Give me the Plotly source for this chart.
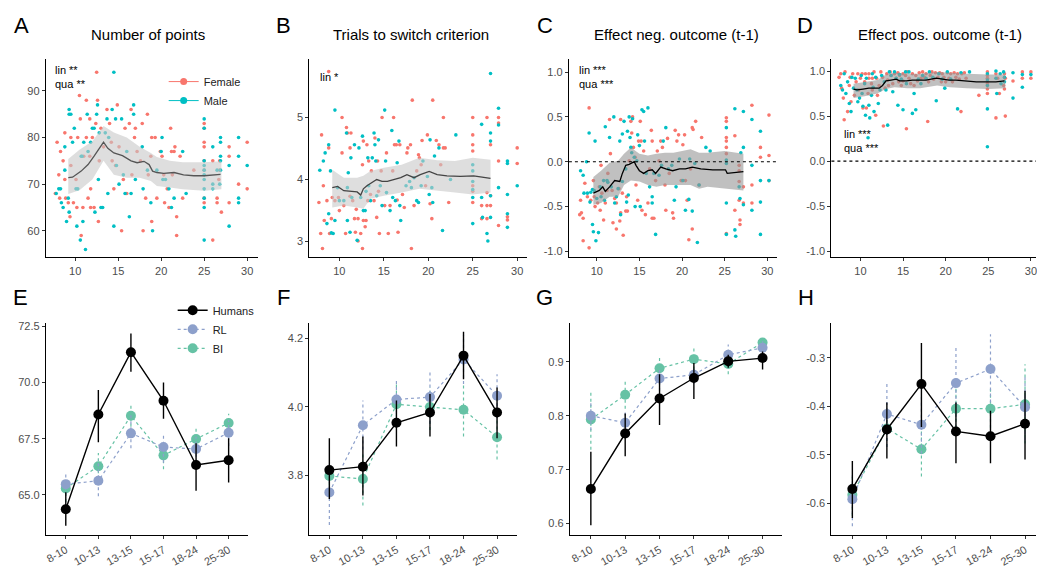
import plotly.graph_objects as go

FONT = "Arial, Liberation Sans, sans-serif"
FEMALE = "#F8766D"
MALE = "#00BFC4"
HUM_C = "black"
RL_C = "#8DA0CB"
BI_C = "#66C2A5"

# ---------------- Top row data: (age, value) ----------------
a_female = [(7.7,68),(7.9,79),(8.1,72),(8.2,67),(8.3,77),(8.6,75),(8.8,81),(8.8,71),(8.9,67),(9.2,66),(9.4,63),(9.5,74),(9.5,80),(9.8,66),(10.1,71),(10.2,65),(10.3,80),(10.5,89),(10.6,84),(10.7,59),(10.9,65),(11,76),(11.3,88),(11.3,80),(11.5,67),(11.7,84),(11.7,76),(11.8,69),(11.8,65),(12,80),(12.2,65),(12.4,83),(12.5,94),(12.6,88),(12.7,62),(12.8,75),(13,82),(13.3,78),(13.7,86),(14,83),(14.2,79),(14.3,75),(14.5,69),(14.7,74),(14.9,87),(15.1,78),(15.4,60),(15.6,71),(15.8,82),(16,68),(16.3,83),(16.5,86),(16.6,72),(16.9,80),(17,82),(17.2,77),(17.6,75),(17.8,83),(17.9,60),(18.2,67),(18.4,85),(18.5,72),(18.8,76),(18.9,80),(18.9,62),(19.3,80),(19.5,67),(19.9,77),(20.1,76),(20.3,72),(20.4,66),(20.7,69),(20.9,65),(21.1,82),(21.2,77),(21.3,72),(21.5,77),(21.6,78),(21.8,63),(21.8,59),(22.2,76),(22.5,67),(23.8,73),(25,83),(25,82),(25,79),(25,78),(25,75),(25,73),(25,67),(25,66),(26,75),(26,58),(26.5,67),(26.5,66),(26.7,71),(26.8,73),(26.8,75),(27,64),(27.9,78),(27.9,76),(27.9,66),(29,70),(30,79),(30,69)]
a_male = [(7.8,68),(8.1,69),(8.3,69),(8.4,66),(8.6,65),(8.8,78),(8.8,73),(9,62),(9.2,67),(9.3,64),(9.3,86),(9.3,85),(9.5,85),(9.7,79),(9.9,82),(10.1,69),(10.2,61),(10.3,69),(10.6,58),(10.7,76),(10.8,76),(10.9,62),(11,79),(11.2,56),(11.4,85),(11.5,77),(11.8,79),(12,82),(12.2,82),(12.3,64),(12.5,85),(12.6,87),(12.7,71),(12.8,81),(13,65),(13.2,65),(13.5,81),(13.7,84),(13.8,68),(13.9,80),(14.3,86),(14.5,94),(14.5,61),(14.7,84),(14.8,74),(15.1,70),(15.4,84),(15.6,72),(15.8,68),(16,77),(16.3,63),(16.5,68),(16.8,87),(16.8,85),(17,71),(17.8,78),(17.9,69),(18.4,73),(18.8,66),(19,60),(19.5,73),(20,77),(20.1,80),(20.2,71),(20.5,71),(20.9,69),(21.2,65),(21.5,67),(22.5,77),(22.9,68),(25,75),(25,74),(25,73),(25,72),(25,71),(25,69),(25,67),(25,65),(25,58),(25,84),(25,82),(26,70),(26,69),(26,78),(26.5,73),(26.8,70),(26.9,79),(26.9,80),(26.9,76),(26.9,75),(26.9,73),(27.9,74),(27.9,61),(29,80),(29,76),(29,67),(29,66),(30,74)]
a_line_age = [9.2,9.7,10.7,11.5,12.2,12.8,13.3,13.8,14.5,15.5,16.5,17.2,18,18.6,19,19.5,20.3,21.5,22.6,23.8,25,26.9]
a_line_val = [71.4,71.5,72.8,74.2,76,77.7,79,77.7,76.7,76.1,75,74.6,74.9,74.2,72.8,72.5,72.3,72.5,72,71.8,71.8,72.1]
a_band_age = [9.2,10.5,12,13.3,14.5,16,17.5,18.8,19.5,21,22.5,25,27]
a_band_hi = [75.4,77.4,79.2,82.5,81.1,80,78,76.7,75.8,75,74.7,74.7,74.9]
a_band_lo = [67.9,68.7,71,75,72,71.4,71.4,70.7,69.6,69.3,68.9,68.6,68.9]

b_female = [(7.7,3.63),(7.9,3.13),(8,4.72),(8.1,2.89),(8.2,3.9),(8.3,3.34),(8.6,3.66),(8.8,5.74),(8.8,4.51),(8.9,3.13),(9.1,3.37),(9.2,3.71),(9.5,3.66),(9.9,3.71),(10,3.5),(10.3,5),(10.3,4.43),(10.5,3.58),(10.7,3.13),(10.8,4.84),(10.9,4.75),(11.2,4.51),(11.2,3.73),(11.3,4.75),(11.5,3.66),(11.7,3.37),(11.8,3.15),(11.9,3.52),(12.1,3.37),(12.1,3.01),(12.4,3.13),(12.6,4.24),(12.6,2.89),(12.7,4.62),(12.7,3.34),(12.9,3.24),(13,3.34),(13.1,4.56),(13.2,3.66),(13.3,4.3),(13.5,3.76),(13.6,4.14),(13.9,3.66),(14,4.67),(14.2,3.39),(14.3,4.3),(14.4,3.81),(14.5,3.13),(14.7,4.14),(14.8,5),(15.1,3.58),(15.3,4.43),(15.5,3.13),(15.7,3.58),(16,4.14),(16.1,5),(16.2,4.56),(16.4,4.56),(16.5,3.67),(16.6,3.15),(16.8,4.56),(17.1,3.76),(17.3,3.55),(17.6,4.43),(17.7,4.51),(18,4.56),(18.1,2.89),(18.2,5.28),(18.4,3.58),(18.7,4.14),(18.9,4.4),(19,4.35),(19.2,4.24),(19.3,4.63),(19.7,3.9),(19.9,4.72),(20.2,3.61),(20.4,3.37),(20.5,5.28),(20.9,4.63),(21.2,4.56),(21.4,4.24),(21.7,4.51),(21.7,5),(21.9,4.51),(22.3,3.63),(25,5),(25,4.72),(25,4.56),(25,4.46),(25,3.9),(25,3.81),(25,3.63),(26,3.58),(26,3.37),(26.6,5),(26.6,3.79),(26.6,3.58),(26.6,3.37),(27,4.56),(27,3.58),(27,3.74),(27.9,5),(27.9,4.91),(27.9,4.3),(27.9,3.26),(28.9,3.4),(28.9,3.35),(30,4.51),(30,4.26)]
b_male = [(7.8,4.15),(8.2,4.3),(8.4,4.43),(8.6,3.29),(8.8,4.56),(8.8,3.45),(9,4.14),(9.1,3.14),(9.3,3.13),(9.5,5.12),(9.5,3.34),(9.8,3.87),(10,3.66),(10.5,3.66),(10.8,4.75),(10.9,3.87),(10.9,3.34),(11,4.11),(11.2,3.15),(11.3,4.35),(11.4,3.71),(11.7,4.56),(12,3.02),(12.2,4.51),(12.4,3.71),(12.6,4.7),(12.7,3.5),(12.9,3.5),(13,3.81),(13.2,4.35),(13.3,3.9),(13.5,3.66),(13.7,4.35),(13.9,4.75),(14,4.56),(14.1,4.3),(14.2,3.74),(14.4,4.64),(14.6,3.9),(14.8,3.58),(15.1,5.12),(15.2,4.3),(15.3,3.79),(15.7,3.5),(15.9,4.79),(16,3.71),(16.3,3.66),(16.5,4.27),(16.7,4.62),(16.8,3.58),(16.9,3.34),(17.5,3.9),(17.9,3.97),(18.1,3.87),(18.4,4.03),(18.7,3.66),(18.9,3.63),(19.2,3.9),(19.4,4.3),(19.9,4.05),(20.1,3.76),(20.2,4.64),(20.4,3.87),(20.5,3.63),(20.7,4.38),(21.2,4.51),(21.6,3.18),(22.5,4),(23.1,4.72),(25,4.24),(25,4.14),(25,3.97),(25,3.84),(25,3.71),(25,3.29),(26,4.89),(26,3.71),(26.1,3.39),(26.6,3.13),(26.7,3.01),(27,5.71),(27,4.75),(27,4.62),(27,3.74),(27,3.39),(27.9,5.15),(27.9,4.88),(27.9,3.87),(28.9,4.3),(28.9,4.26),(28.9,3.76),(28.9,3.45),(28.9,3.23),(30,3.9)]
b_line_age = [9.2,9.8,10.5,11.2,12,12.4,12.7,13.1,13.9,14.2,14.8,15.4,16.1,16.9,17.6,18.4,19.1,20.1,21,22.1,23.6,25.1,27]
b_line_val = [3.87,3.89,3.82,3.81,3.8,3.75,3.85,3.9,3.97,4,3.97,3.97,4,4.03,4.08,4.03,4.08,4.13,4.08,4.06,4.05,4.06,4.02]
b_band_age = [9.2,10.5,12,12.7,13.5,15,17,19,21,23,25,27]
b_band_hi = [4.16,4.03,4.03,4.06,4.14,4.19,4.24,4.35,4.31,4.3,4.35,4.32]
b_band_lo = [3.55,3.58,3.55,3.53,3.69,3.74,3.79,3.85,3.82,3.79,3.76,3.79]

c_female = [(8,-0.59),(8.1,-0.43),(8.2,-0.57),(8.4,-0.63),(8.4,-0.88),(8.6,-0.24),(8.9,-0.39),(9.1,0.6),(9.1,-0.96),(9.3,-0.43),(9.6,-0.21),(9.7,-0.39),(9.8,-0.5),(10.1,-0.46),(10.3,-0.28),(10.4,-0.54),(10.5,-0.04),(10.6,-0.35),(10.8,-0.65),(11,-0.46),(11.2,-0.32),(11.3,-0.13),(11.5,0.47),(11.6,0.09),(11.8,-0.32),(11.9,-0.68),(12.1,-0.41),(12.3,-0.75),(12.3,-0.46),(12.6,-0.3),(12.7,-0.66),(12.8,0.47),(12.8,-0.57),(13,-0.35),(13.1,-0.82),(13.4,-0.55),(13.5,-0.39),(13.6,-0.55),(13.8,0.01),(14,0.45),(14.1,0.32),(14.2,0.5),(14.3,0.16),(14.5,0.05),(14.6,-0.26),(14.8,-0.43),(14.9,0.23),(15.1,0.45),(15.2,0.23),(15.3,-0.54),(15.5,0.12),(15.7,-0.59),(16,-0.46),(16.2,-0.08),(16.4,0.35),(16.5,0.23),(16.5,-0.63),(16.7,-0.63),(16.9,-0.21),(17.1,0.12),(17.3,0.01),(17.5,0.23),(17.7,0.16),(18,-0.26),(18.1,-0.54),(18.3,0.26),(18.5,-0.13),(18.9,-0.57),(19,-0.63),(19.2,0.35),(19.4,0.23),(19.6,0.3),(19.9,-0.21),(20.1,0.19),(20.3,0.3),(20.4,-0.21),(20.6,-0.43),(20.8,-0.87),(21,-0.08),(21.2,0.38),(21.3,0.36),(21.2,-0.75),(21.6,0.45),(22,-0.26),(22.3,0.27),(25.2,0.49),(25.2,0.45),(25.2,0.27),(25.2,0.23),(25.2,0.16),(25.2,0.09),(25.2,-0.8),(26.2,0.29),(26.2,-0.54),(26.7,-0.04),(26.7,-0.1),(26.7,-0.22),(26.7,-0.43),(26.8,-0.65),(26.8,-0.7),(27.2,-0.46),(27.2,-0.28),(28.2,0.63),(28.2,-0.26),(28.2,-0.46),(29.2,0.16),(29.2,0.05),(30.2,0.52),(30.2,-0.21),(30.2,0.07)]
c_male = [(8.1,-0.1),(8.4,-0.15),(8.5,-0.35),(8.8,0),(8.9,-0.35),(9.1,0.32),(9.2,-0.45),(9.3,-0.34),(9.5,-0.31),(9.5,-0.7),(9.6,-0.78),(9.7,-0.32),(9.8,0.23),(9.9,-0.88),(10,-0.41),(10.2,-0.79),(10.4,-0.28),(10.5,-0.39),(10.8,-0.21),(10.9,-0.43),(11,0.39),(11.2,-0.21),(11.3,-0.23),(11.5,0.27),(11.7,-0.28),(12,0.5),(12.1,-0.46),(12.3,-0.39),(12.5,-0.3),(12.7,0.23),(12.8,-0.59),(13,0.31),(13,-0.22),(13.2,0.45),(13.4,-0.08),(13.5,-0.45),(13.6,0.34),(13.7,-0.37),(13.8,0.5),(13.9,0.27),(14,0.16),(14.1,0.1),(14.2,0.48),(14.4,0.05),(14.5,-0.5),(14.7,0.01),(14.8,0.3),(15,0.18),(15.1,-0.5),(15.3,0.58),(15.5,0.56),(15.6,0.23),(15.8,-0.13),(16,0.6),(16.2,-0.28),(16.5,-0.46),(16.5,-0.39),(16.7,-0.13),(16.9,-0.81),(17.3,-0.15),(17.6,-0.04),(17.8,0.23),(18.1,0.38),(18.4,-0.08),(18.8,-0.04),(19.1,-0.43),(19.3,-0.28),(19.7,0.03),(20.1,-0.21),(20.4,-0.54),(20.8,-0.42),(20.9,0.03),(21.2,-0.55),(21.5,-0.02),(21.8,-0.9),(22,-0.26),(22.8,0.16),(23.3,0.12),(25.2,0.38),(25.2,0.02),(25.2,-0.02),(25.2,-0.46),(25.2,-0.81),(26.2,0.59),(26.2,-0.76),(26.3,-0.83),(26.7,-0.28),(26.8,-0.41),(26.9,0.1),(27.2,0.16),(27.2,0.56),(27.2,-0.48),(28.2,0.47),(28.2,-0.04),(28.2,-0.54),(29.2,0.34),(29.2,-0.21),(29.2,-0.45),(29.2,-0.81),(30.2,-0.21)]
c_line_age = [9.6,10.3,10.7,11,11.5,12.1,12.7,13,13.4,13.8,14.4,14.6,15,15.5,16,16.5,16.9,17.5,18.1,18.9,19.7,20.4,21.2,22.2,23.6,25.1,25.3,26.3,27.2]
c_line_val = [-0.35,-0.32,-0.28,-0.33,-0.28,-0.21,-0.22,-0.13,-0.04,-0.03,0,-0.04,-0.1,-0.13,-0.1,-0.09,-0.13,-0.06,-0.08,-0.1,-0.08,-0.08,-0.06,-0.08,-0.09,-0.09,-0.13,-0.12,-0.11]
c_band_age = [9.6,10.5,11.5,12.5,13.2,14,15,16,17,18,19,20,21,22,23,25,27.2]
c_band_hi = [-0.17,-0.1,-0.01,0.01,0.09,0.16,0.09,0.07,0.09,0.1,0.1,0.12,0.14,0.1,0.1,0.12,0.09]
c_band_lo = [-0.48,-0.46,-0.39,-0.39,-0.26,-0.21,-0.22,-0.26,-0.28,-0.26,-0.26,-0.26,-0.26,-0.3,-0.28,-0.3,-0.32]

d_female = [(7.5,0.93),(7.7,0.97),(7.8,0.81),(8,0.7),(8.1,0.46),(8.2,0.99),(8.5,0.55),(8.7,0.84),(8.8,0.93),(8.9,0.66),(9.1,0.97),(9.3,0.73),(9.5,0.88),(9.7,0.97),(9.8,0.79),(10,0.92),(10.2,0.97),(10.3,0.59),(10.5,0.88),(10.6,0.97),(10.7,0.59),(10.9,0.75),(11,0.92),(11,0.97),(11.3,0.86),(11.4,0.79),(11.4,0.92),(11.6,0.99),(11.8,0.51),(11.9,0.92),(12,0.73),(12.2,0.84),(12.4,0.99),(12.6,0.93),(12.7,0.39),(12.9,0.81),(13.1,0.97),(13.2,0.9),(13.3,0.84),(13.5,0.99),(13.6,0.95),(13.8,0.86),(14,0.97),(14.2,0.92),(14.4,0.98),(14.5,0.88),(14.6,0.95),(14.8,0.84),(15,0.97),(15,0.89),(15.3,0.95),(15.4,0.36),(15.5,0.99),(15.7,0.92),(15.9,0.86),(16.1,0.97),(16.3,0.84),(16.5,0.95),(16.7,0.89),(16.9,0.98),(17.1,0.92),(17.3,0.99),(17.5,0.93),(17.7,0.97),(17.9,0.44),(18,0.88),(18.2,0.95),(18.4,0.99),(18.6,0.91),(18.8,0.98),(19.1,0.93),(19.3,0.98),(19.5,0.88),(19.6,0.97),(19.8,0.93),(20,0.88),(20.2,0.98),(20.4,0.92),(20.6,0.97),(20.8,0.88),(21,0.98),(21.2,0.93),(21.4,0.97),(21.6,0.91),(21.8,0.55),(21.9,0.97),(22.2,0.98),(22.4,0.92),(23.9,0.73),(24.9,0.99),(24.9,0.95),(24.9,0.92),(24.9,0.86),(24.9,0.8),(24.9,0.75),(25.9,0.48),(25.9,0.97),(26.1,0.92),(26.3,0.75),(26.8,0.84),(26.9,0.97),(26.9,0.8),(27,0.5),(27,0.92),(27.9,0.89),(29,0.99),(29,0.92),(30,0.99),(30,0.92)]
d_male = [(7.7,0.84),(7.9,0.79),(8.1,0.97),(8.3,0.75),(8.5,0.88),(8.7,0.64),(8.9,0.55),(9,0.93),(9.2,0.81),(9.4,0.92),(9.6,0.79),(9.7,0.66),(9.9,0.7),(10.1,0.95),(10.2,0.75),(10.3,0.61),(10.5,0.86),(10.6,0.51),(10.7,0.92),(10.9,0.26),(11,0.62),(11.1,0.48),(11.3,0.73),(11.4,0.97),(11.5,0.82),(11.6,0.55),(11.8,0.93),(12.1,0.64),(12.3,0.79),(12.5,0.95),(12.8,0.88),(13,0.79),(13.2,0.4),(13.4,0.99),(13.6,0.95),(13.8,0.77),(14,0.99),(14.2,0.92),(14.4,0.62),(14.6,0.96),(14.8,0.91),(15,0.57),(15.3,0.99),(15.4,0.86),(15.7,0.99),(16.1,0.53),(16.3,0.75),(16.5,0.57),(16.8,0.91),(17.1,0.86),(17.3,0.95),(17.7,0.92),(18.1,0.99),(18.5,0.93),(18.9,0.67),(19.2,0.97),(19.6,0.91),(19.9,0.81),(20.2,0.99),(20.6,0.91),(21.4,0.58),(21.8,0.98),(22.8,0.99),(24.9,0.58),(24.9,0.16),(24.9,0.97),(24.9,0.9),(24.9,0.84),(25.9,0.92),(25.9,1.0),(26,0.75),(26.4,0.97),(26.5,0.86),(26.8,0.99),(26.9,0.93),(26.9,0.88),(27.9,0.7),(27.9,0.98),(29,0.82),(29,0.96),(30,0.96)]
d_line_age = [9.2,9.6,10.3,11,11.8,12.2,12.6,13,13.6,14.2,14.6,15.4,16.1,16.9,17.7,18.9,19.6,20.4,21.2,22.4,23.6,24.9,25.9,26.9]
d_line_val = [0.8,0.79,0.8,0.81,0.81,0.81,0.84,0.89,0.9,0.91,0.89,0.89,0.9,0.9,0.9,0.92,0.91,0.9,0.9,0.89,0.88,0.88,0.88,0.89]
d_band_age = [9.2,10.5,12,13,14,15.5,17,19,20.5,22.5,25,27]
d_band_hi = [0.86,0.88,0.9,0.96,0.98,0.97,0.97,0.99,0.98,0.97,0.96,0.96]
d_band_lo = [0.7,0.72,0.75,0.8,0.82,0.81,0.81,0.84,0.82,0.81,0.8,0.81]
zero_ref = 0.0

# ---------------- Bottom row data: (mean, lower, upper) ----------------
age_groups = ["8-10", "10-13", "13-15", "15-17", "18-24", "25-30"]
e_humans = [(64.36,63.63,65.12),(68.58,67.34,69.67),(71.35,70.48,72.18),(69.19,68.39,70.0),(66.33,65.19,67.3),(66.54,65.55,67.52)]
e_rl = [(65.48,64.97,65.99),(65.63,64.94,66.57),(67.74,67.08,68.54),(67.13,66.43,67.74),(67.04,66.43,67.59),(67.77,67.18,68.32)]
e_bi = [(65.29,64.68,65.63),(66.28,65.7,66.86),(68.52,68.03,69.05),(66.76,66.14,67.3),(67.49,67.01,67.96),(68.2,67.74,68.61)]
f_humans = [(3.815,3.731,3.908),(3.825,3.741,3.913),(3.953,3.884,4.018),(3.983,3.913,4.037),(4.149,4.08,4.219),(3.983,3.908,4.056)]
f_rl = [(3.75,3.655,3.832),(3.946,3.875,4.018),(4.021,3.961,4.083),(4.028,3.951,4.104),(4.138,4.066,4.21),(4.032,3.966,4.095)]
f_bi = [(3.798,3.77,3.825),(3.789,3.712,3.865),(4.007,3.951,4.066),(3.999,3.932,4.056),(3.991,3.913,4.066),(3.911,3.846,3.98)]
g_humans = [(0.664,0.597,0.733),(0.767,0.725,0.804),(0.832,0.783,0.877),(0.870,0.831,0.898),(0.901,0.889,0.913),(0.907,0.886,0.919)]
g_rl = [(0.8,0.773,0.828),(0.787,0.767,0.81),(0.869,0.846,0.889),(0.876,0.859,0.892),(0.913,0.895,0.932),(0.926,0.913,0.938)]
g_bi = [(0.793,0.737,0.846),(0.839,0.813,0.868),(0.888,0.868,0.907),(0.905,0.886,0.926),(0.896,0.877,0.91),(0.936,0.926,0.947)]
h_humans = [(-0.571,-0.631,-0.513),(-0.448,-0.508,-0.392),(-0.354,-0.443,-0.269),(-0.452,-0.518,-0.392),(-0.462,-0.518,-0.409),(-0.436,-0.51,-0.368)]
h_rl = [(-0.592,-0.648,-0.539),(-0.416,-0.484,-0.351),(-0.438,-0.498,-0.381),(-0.352,-0.422,-0.275),(-0.323,-0.392,-0.251),(-0.402,-0.47,-0.337)]
h_bi = [(-0.583,-0.627,-0.545),(-0.446,-0.484,-0.415),(-0.489,-0.545,-0.45),(-0.405,-0.457,-0.361),(-0.405,-0.457,-0.361),(-0.396,-0.477,-0.313)]

fig = go.Figure()


def add_top(xa, ya, female, male, band_age, band_lo, band_hi, line_age, line_val,
            band_col, line_col):
    for pts, col in ((female, FEMALE), (male, MALE)):
        fig.add_trace(go.Scatter(
            x=[p[0] for p in pts], y=[p[1] for p in pts], mode="markers",
            marker=dict(size=3.6, color=col, line=dict(width=0)),
            xaxis=xa, yaxis=ya, showlegend=False, hoverinfo="skip"))
    fig.add_trace(go.Scatter(
        x=band_age + band_age[::-1], y=band_hi + band_lo[::-1],
        fill="toself", fillcolor=band_col, mode="lines", line=dict(width=0),
        xaxis=xa, yaxis=ya, showlegend=False, hoverinfo="skip"))
    fig.add_trace(go.Scatter(
        x=line_age, y=line_val, mode="lines", line=dict(color=line_col, width=1.3),
        xaxis=xa, yaxis=ya, showlegend=False, hoverinfo="skip"))


add_top("x", "y", a_female, a_male, a_band_age, a_band_lo, a_band_hi,
        a_line_age, a_line_val, "rgba(200,200,200,0.6)", "#555555")
add_top("x2", "y2", b_female, b_male, b_band_age, b_band_lo, b_band_hi,
        b_line_age, b_line_val, "rgba(200,200,200,0.6)", "#444444")
add_top("x3", "y3", c_female, c_male, c_band_age, c_band_lo, c_band_hi,
        c_line_age, c_line_val, "rgba(150,150,150,0.6)", "black")
add_top("x4", "y4", d_female, d_male, d_band_age, d_band_lo, d_band_hi,
        d_line_age, d_line_val, "rgba(150,150,150,0.6)", "black")

# legend keys for sex
for name, col in (("Female", FEMALE), ("Male", MALE)):
    fig.add_trace(go.Scatter(
        x=[None], y=[None], mode="lines+markers", name=name,
        marker=dict(size=7, color=col), line=dict(color=col, width=1),
        xaxis="x", yaxis="y", legend="legend"))


def add_bottom(xa, ya, series, first):
    for name, data, col, dash, lw in series:
        xs, ys = [], []
        for g, (m, lo, hi) in zip(age_groups, data):
            xs += [g, g, None]
            ys += [lo, hi, None]
        fig.add_trace(go.Scatter(
            x=xs, y=ys, mode="lines", line=dict(color=col, width=lw, dash=dash),
            xaxis=xa, yaxis=ya, showlegend=False, hoverinfo="skip"))
        fig.add_trace(go.Scatter(
            x=age_groups, y=[d[0] for d in data], mode="lines+markers", name=name,
            line=dict(color=col, width=lw, dash=dash),
            marker=dict(size=10, color=col),
            xaxis=xa, yaxis=ya, showlegend=first, legend="legend2"))


for i, (hum, rl, bi) in enumerate([(e_humans, e_rl, e_bi), (f_humans, f_rl, f_bi),
                                   (g_humans, g_rl, g_bi), (h_humans, h_rl, h_bi)]):
    xa = "x%d" % (i + 5)
    ya = "y%d" % (i + 5)
    series = [("BI", bi, BI_C, "3px,3px", 1.2), ("RL", rl, RL_C, "3px,3px", 1.2),
              ("Humans", hum, HUM_C, "solid", 1.4)]
    add_bottom(xa, ya, series, i == 0)

for tr in fig.data:
    if tr.name == "Humans":
        tr.legendrank = 1
    elif tr.name == "RL":
        tr.legendrank = 2
    elif tr.name == "BI":
        tr.legendrank = 3

W, H = 1037, 568


def px_x(a, b):
    return [a / W, min(b / W, 1.0)]


def px_y(top, bottom):
    return [1 - bottom / H, 1 - top / H]


TICKFONT = dict(family=FONT, size=11, color="#4D4D4D")


def axis(domain, rng, anchor, tickvals=None, ticktext=None, angle=None, cat=False):
    d = dict(domain=domain, range=rng, anchor=anchor, showline=True,
             linecolor="black", linewidth=1.2, ticks="outside", ticklen=3,
             tickcolor="#333333", tickwidth=1, tickfont=TICKFONT,
             showgrid=False, zeroline=False, fixedrange=True,
             ticklabeloverflow="allow")
    if tickvals is not None:
        d["tickvals"] = tickvals
    if ticktext is not None:
        d["ticktext"] = ticktext
    if angle is not None:
        d["tickangle"] = angle
    if cat:
        d["type"] = "category"
    return d


top_y = px_y(57, 258)
bot_y = px_y(325, 540)
ages_ticks = [10, 15, 20, 25, 30]
cd_vals = [-1.0, -0.5, 0.0, 0.5, 1.0]
cd_text = ["-1.0", "-0.5", "0.0", "0.5", "1.0"]

layout = dict(
    width=W, height=H, margin=dict(l=0, r=0, t=0, b=0),
    paper_bgcolor="white", plot_bgcolor="white",
    font=dict(family=FONT, size=11, color="black"),
    xaxis=axis(px_x(45, 257), [6.6, 31.2], "y", ages_ticks),
    yaxis=axis(top_y, [54.3, 96.8], "x", [60, 70, 80, 90]),
    xaxis2=axis(px_x(309, 527), [6.63, 31.1], "y2", ages_ticks),
    yaxis2=axis(top_y, [2.746, 5.94], "x2", [3, 4, 5]),
    xaxis3=axis(px_x(569, 778), [6.73, 31.2], "y3", ages_ticks),
    yaxis3=axis(top_y, [-1.066, 1.143], "x3", cd_vals, cd_text),
    xaxis4=axis(px_x(832, 1037), [6.6, 30.6], "y4", ages_ticks),
    yaxis4=axis(top_y, [-1.066, 1.131], "x4", cd_vals, cd_text),
    xaxis5=axis(px_x(45, 247), [-0.61, 5.58], "y5", angle=-30, cat=True),
    yaxis5=axis(bot_y, [63.2, 72.63], "x5", [65, 67.5, 70, 72.5], ["65.0", "67.5", "70.0", "72.5"]),
    xaxis6=axis(px_x(309, 517), [-0.595, 5.595], "y6", angle=-30, cat=True),
    yaxis6=axis(bot_y, [3.6245, 4.243], "x6", [3.8, 4.0, 4.2], ["3.8", "4.0", "4.2"]),
    xaxis7=axis(px_x(570, 783), [-0.61, 5.58], "y7", angle=-30, cat=True),
    yaxis7=axis(bot_y, [0.578, 0.9713], "x7", [0.6, 0.7, 0.8, 0.9], ["0.6", "0.7", "0.8", "0.9"]),
    xaxis8=axis(px_x(832, 1037), [-0.607, 5.318], "y8", angle=-30, cat=True),
    yaxis8=axis(bot_y, [-0.667, -0.2286], "x8", [-0.6, -0.5, -0.4, -0.3], ["-0.6", "-0.5", "-0.4", "-0.3"]),
    legend=dict(x=163 / W, y=1 - 65 / H, xanchor="left", yanchor="top",
                bgcolor="rgba(0,0,0,0)", font=dict(family=FONT, size=11, color="#222"),
                itemwidth=30, tracegroupgap=0),
    legend2=dict(x=172 / W, y=1 - 297 / H, xanchor="left", yanchor="top",
                 bgcolor="rgba(0,0,0,0)", font=dict(family=FONT, size=11, color="#222"),
                 itemwidth=30, tracegroupgap=0),
    showlegend=True,
)
fig.update_layout(**layout)

for xa, ya in (("x3", "y3"), ("x4", "y4")):
    fig.add_shape(type="line", xref=xa + " domain", yref=ya, x0=0, x1=1,
                  y0=zero_ref, y1=zero_ref, line=dict(color="black", width=1.2, dash="dot"))

letters = [("A", 21, 23), ("B", 283, 23), ("C", 545, 23), ("D", 806, 23),
           ("E", 20, 299), ("F", 283, 299), ("G", 545, 299), ("H", 807, 299)]
for t, x, y in letters:
    fig.add_annotation(text=t, x=x / W, y=1 - y / H, xref="paper", yref="paper",
                       showarrow=False, xanchor="center", yanchor="middle",
                       font=dict(family=FONT, size=22, color="black"))
titles = [("Number of points", 147), ("Trials to switch criterion", 411),
          ("Effect neg. outcome (t-1)", 677), ("Effect pos. outcome (t-1)", 941)]
for t, x in titles:
    fig.add_annotation(text=t, x=x / W, y=1 - 32 / H, xref="paper", yref="paper",
                       showarrow=False, xanchor="center", yanchor="middle",
                       font=dict(family=FONT, size=15, color="black"))

notes = [("lin **", 52, 68), ("qua **", 52, 82), ("lin *", 318, 75),
         ("lin ***", 577, 68), ("qua ***", 577, 82),
         ("lin ***", 843, 133), ("qua ***", 843, 147)]
for t, x, y in notes:
    fig.add_annotation(text=t, x=x / W, y=1 - y / H, xref="paper", yref="paper",
                       showarrow=False, xanchor="left", yanchor="middle",
                       font=dict(family=FONT, size=11, color="black"))

fig.write_html("out.html")
